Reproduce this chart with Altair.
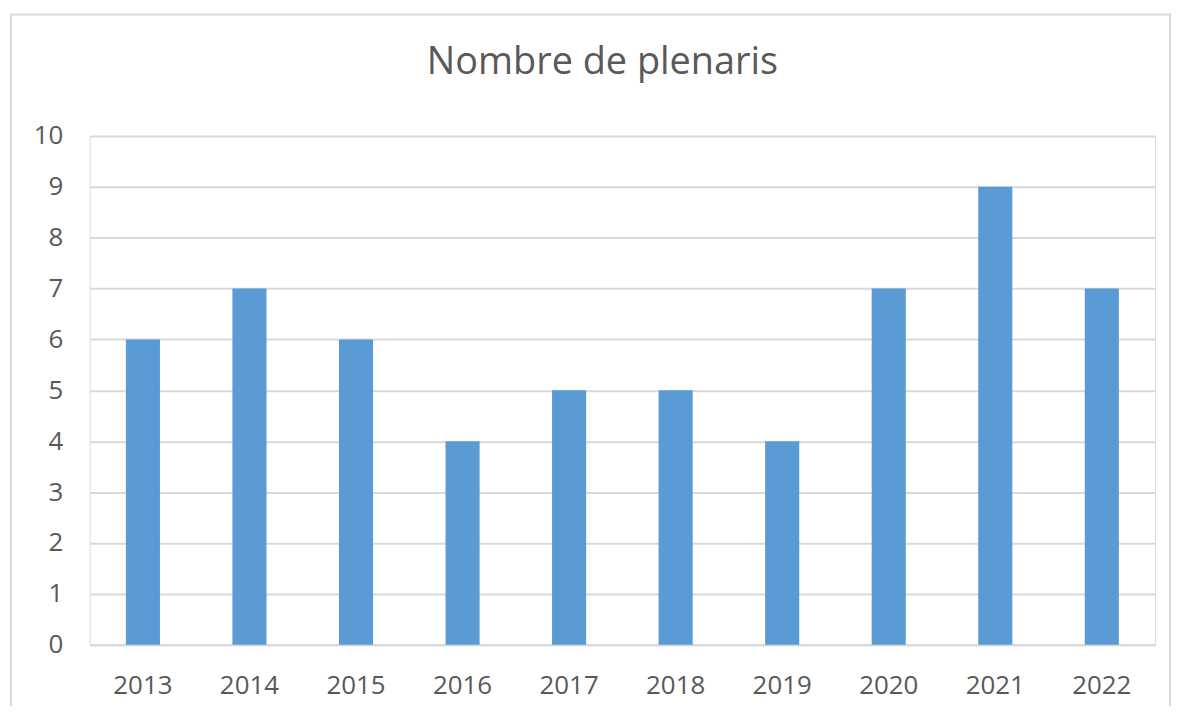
import altair as alt
import pandas as pd

years = ["2013", "2014", "2015", "2016", "2017", "2018", "2019", "2020", "2021", "2022"]
plenaris = [6, 7, 6, 4, 5, 5, 4, 7, 9, 7]

df = pd.DataFrame({"Any": years, "Plenaris": plenaris})

FONT = "Open Sans"
GREY = "#595959"
GRID = "#d9d9d9"

bars = alt.Chart(df).mark_bar(color="#5b9bd5").encode(
    x=alt.X("Any:N", sort=years, title=None,
            scale=alt.Scale(paddingInner=0.68, paddingOuter=0.34),
            axis=alt.Axis(labelAngle=0, ticks=False, domain=True, domainColor=GRID,
                          domainWidth=2, labelPadding=28, labelFontSize=26,
                          labelColor=GREY, labelFont=FONT)),
    y=alt.Y("Plenaris:Q", title=None,
            scale=alt.Scale(domain=[0, 10], nice=False),
            axis=alt.Axis(values=list(range(0, 11)), ticks=False, domain=False,
                          gridColor=GRID, gridWidth=2, labelPadding=27,
                          labelFontSize=26, labelColor=GREY, labelFont=FONT)),
)

frame = alt.Chart(alt.Data(values=[{"a": 1}])).mark_rect(
    filled=False, stroke=GRID, strokeWidth=2
).encode(
    x=alt.value(-79), x2=alt.value(1085), y=alt.value(-122), y2=alt.value(590)
)

chart = alt.layer(frame, bars).properties(
    width=1070,
    height=511,
    padding={"left": 82, "top": 127, "right": 22, "bottom": 60},
    autosize=alt.AutoSizeParams(type="none"),
    title=alt.TitleParams("Nombre de plenaris", fontSize=38, font=FONT,
                          fontWeight="normal", color=GREY, anchor="middle",
                          baseline="alphabetic", offset=-99, dx=-20),
).configure_view(stroke=None).configure(background="white")

chart.save("out.html", embed_options={"renderer": "svg", "actions": False})
